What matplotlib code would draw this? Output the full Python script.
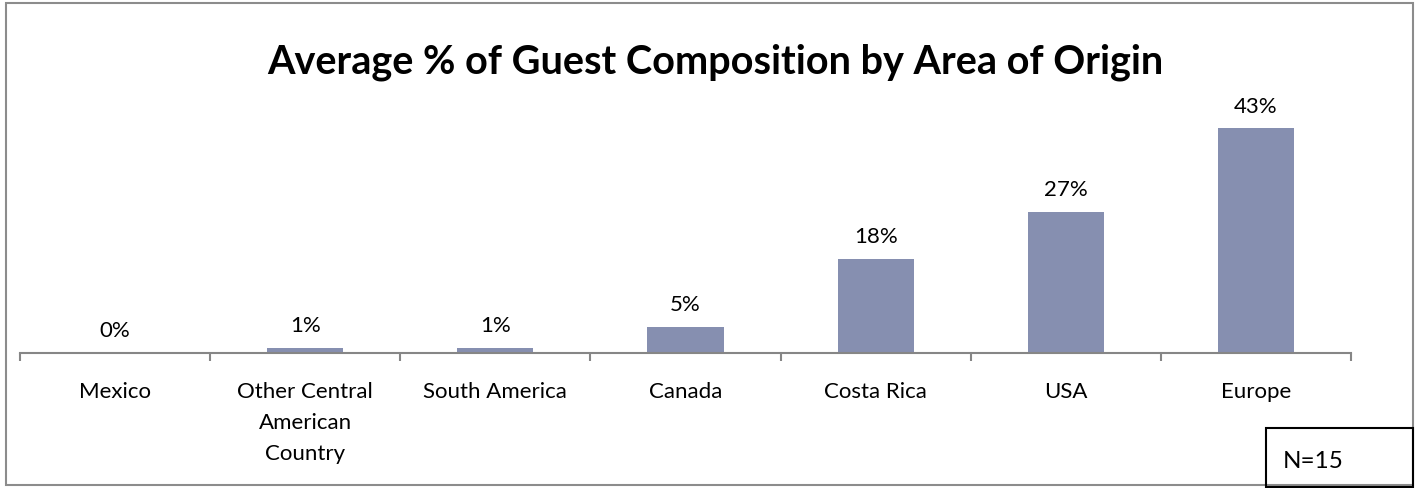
import matplotlib

matplotlib.use("Agg")

import matplotlib.pyplot as plt
from matplotlib.patches import Rectangle

categories = ["Mexico", "Other Central\nAmerican\nCountry", "South America",
              "Canada", "Costa Rica", "USA", "Europe"]
shares = [0.0, 1.0, 1.0, 5.0, 18.0, 27.0, 43.0]
share_labels = ["0%", "1%", "1%", "5%", "18%", "27%", "43%"]
sample_note = "N=15"

BAR_COLOR = "#868FB0"
AXIS_COLOR = "#868686"
FRAME_COLOR = "#8c8c8c"

plt.rcParams["font.family"] = ["Lato", "DejaVu Sans"]

W, H = 1419, 489
fig = plt.figure(figsize=(W / 100, H / 100), dpi=100, facecolor="white")

# outer chart frame
fig.patches.append(Rectangle((6 / W, 3 / H), 1407 / W, 482 / H,
                             transform=fig.transFigure, fill=False,
                             edgecolor=FRAME_COLOR, linewidth=1.5))

ax_bottom = 354
ax_top = ax_bottom - 50 * 5.23
ax = fig.add_axes([20 / W, (H - ax_bottom) / H, 1331 / W, (ax_bottom - ax_top) / H])
ax.set_facecolor("none")

x = range(len(categories))
ax.bar(x, shares, width=0.4, color=BAR_COLOR)
ax.set_xlim(-0.5, len(categories) - 0.5)
ax.set_ylim(0, 50)

for i, (v, lab) in enumerate(zip(shares, share_labels)):
    ax.annotate(lab, xy=(i, v), xytext=(0, 9), textcoords="offset points",
                ha="center", va="bottom", fontsize=16, color="black")

for side in ("left", "right", "top"):
    ax.spines[side].set_visible(False)
ax.spines["bottom"].set_color(AXIS_COLOR)
ax.spines["bottom"].set_linewidth(1.5)
ax.set_yticks([])

ax.set_xticks(list(x))
ax.set_xticklabels(categories, fontsize=16, linespacing=1.7, va="top")
ax.tick_params(axis="x", which="major", length=0, pad=20)
ax.set_xticks([i - 0.5 for i in range(len(categories) + 1)], minor=True)
ax.tick_params(axis="x", which="minor", length=6, width=1.5, color=AXIS_COLOR,
               direction="out")

fig.text(715 / W, 1 - 62 / H, "Average % of Guest Composition by Area of Origin",
         ha="center", va="center", fontsize=28.5, fontweight="bold")

# sample size box
fig.patches.append(Rectangle((1266 / W, 1 / H), 147 / W, 59 / H,
                             transform=fig.transFigure, fill=False,
                             edgecolor="black", linewidth=1.5))
fig.text(1283 / W, 1 - 462 / H, sample_note, ha="left", va="center", fontsize=17.5)

fig.savefig("out.png", dpi=100, facecolor="white")
